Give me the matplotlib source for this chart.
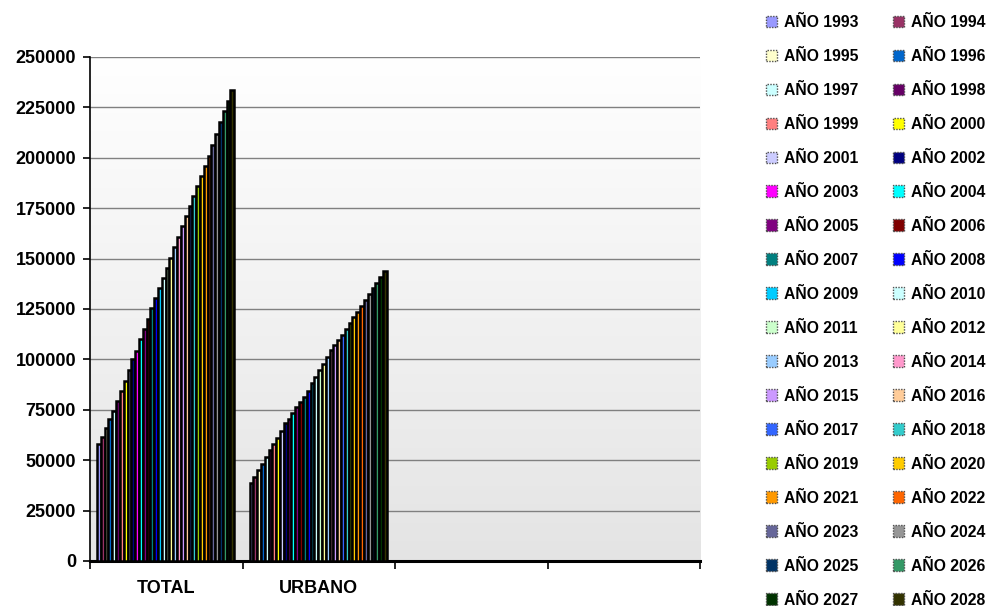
"""Población TOTAL y URBANO por año, barras agrupadas con leyenda a la derecha."""

import matplotlib

matplotlib.use("Agg")
import matplotlib.patches as mpatches
import matplotlib.pyplot as plt
import numpy as np

plt.rcParams["font.family"] = ["Liberation Sans", "DejaVu Sans"]

categories = ["TOTAL", "URBANO", "", ""]
years = list(range(1993, 2029))

total = [57900, 61700, 65800, 70300, 74400, 79500, 84300, 89300, 94700, 100000,
         104000, 110000, 115000, 120000, 125500, 130500, 135500, 140500, 145500,
         150500, 155500, 160500, 166000, 171000, 176000, 181000, 186000, 191000,
         196000, 201000, 206500, 212000, 217500, 223000, 228000, 233500]
urbano = [38800, 41800, 45100, 48100, 51400, 55100, 58000, 61200, 64500, 68300,
          70400, 73300, 76500, 79000, 81500, 84500, 88400, 91400, 94700, 97700,
          101300, 104700, 107100, 109600, 112100, 114900, 117900, 120900, 123700,
          126500, 129500, 132300, 135300, 138100, 141000, 144000]

colors = ["#9999FF", "#993366", "#FFFFCC", "#0066CC", "#CCFFFF", "#660066",
          "#FF8080", "#FFFF00", "#CCCCFF", "#000080", "#FF00FF", "#00FFFF",
          "#800080", "#800000", "#008080", "#0000FF", "#00CCFF", "#CCFFFF",
          "#CCFFCC", "#FFFF99", "#99CCFF", "#FF99CC", "#CC99FF", "#FFCC99",
          "#3366FF", "#33CCCC", "#99CC00", "#FFCC00", "#FF9900", "#FF6600",
          "#666699", "#969696", "#003366", "#339966", "#003300", "#333300"]

fig = plt.figure(figsize=(9.9, 6.06), dpi=100)
ax = fig.add_axes([0.0909, 0.0743, 0.6162, 0.8317])

# gradient background
grad = np.linspace(0, 1, 256).reshape(-1, 1)
ax.imshow(grad, extent=[0, 1, 0, 1], transform=ax.transAxes, aspect="auto",
          cmap=matplotlib.colors.LinearSegmentedColormap.from_list(
              "bg", ["#ffffff", "#e4e4e4"]), zorder=0)

n = len(years)
group_w = 0.9
bw = group_w / n
start = 0.046
series = np.array([total, urbano])
for i, yr in enumerate(years):
    x = np.arange(2) + start + i * bw
    ax.bar(x, series[:, i], width=bw, align="edge", color=colors[i],
           edgecolor="black", linewidth=1.8, zorder=3)

ax.set_xlim(0, 4)
ax.set_ylim(0, 250000)
ax.set_yticks(np.arange(0, 250001, 25000))
ax.yaxis.grid(True, color="#808080", linewidth=1.0, zorder=1)
ax.set_axisbelow(True)
ax.set_xticks(np.arange(0, 5))
ax.set_xticklabels([])
ax.set_xticks(np.arange(4) + 0.5, minor=True)
ax.set_xticklabels(categories, minor=True, fontsize=13, fontweight="bold")
ax.tick_params(axis="x", which="minor", length=0, pad=14)
ax.tick_params(axis="x", which="major", length=6, width=1.2)
ax.tick_params(axis="y", length=5, width=1.2, labelsize=13, pad=5)
for lab in ax.get_yticklabels():
    lab.set_fontweight("bold")
for side in ("top", "right"):
    ax.spines[side].set_visible(False)
ax.spines["bottom"].set_linewidth(2.2)
ax.spines["left"].set_linewidth(1.2)

# legend, row-major order in two columns
handles = [mpatches.Patch(facecolor=c, edgecolor="#505050", linestyle=(0, (1, 1)),
                          linewidth=1.0, label=f"AÑO {y}")
           for c, y in zip(colors, years)]
ordered = handles[0::2] + handles[1::2]
fig.legend(handles=ordered, loc="upper left", bbox_to_anchor=(0.767, 0.986),
           ncol=2, frameon=False, prop={"weight": "bold", "size": 11.3},
           handlelength=0.7, handleheight=0.75, handletextpad=0.45,
           columnspacing=2.2, labelspacing=1.21, borderaxespad=0)

fig.savefig("out.png", dpi=100, facecolor="white")
